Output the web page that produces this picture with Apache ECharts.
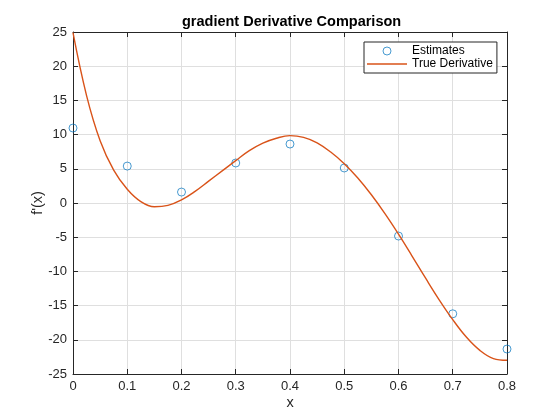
<!DOCTYPE html>
<html>
<head>
<meta charset="utf-8">
<script src="https://cdn.jsdelivr.net/npm/echarts@6/dist/echarts.min.js"></script>
<style>
  html, body { margin: 0; padding: 0; background: #fff; }
  #chart { width: 560px; height: 420px; }
</style>
</head>
<body>
<div id="chart"></div>
<script>
// sampled estimates at the grid points
const estX = [0, 0.1, 0.2, 0.3, 0.4, 0.5, 0.6, 0.7, 0.8];
const estY = [10.96, 5.4, 1.6, 5.85, 8.62, 5.12, -4.83, -16.2, -21.35];

// true derivative, every 0.025
const trueX = [0, 0.025, 0.05, 0.075, 0.1, 0.125, 0.15, 0.175, 0.2, 0.225, 0.25, 0.275,
    0.3, 0.325, 0.35, 0.375, 0.4, 0.425, 0.45, 0.475, 0.5, 0.525, 0.55, 0.575,
    0.6, 0.625, 0.65, 0.675, 0.7, 0.725, 0.75, 0.775, 0.8];
const trueY = [24.9, 15.7, 9.1, 4.8, 2.0, 0.2, -0.55, -0.35, 0.45, 1.7, 3.2, 4.7,
    6.2, 7.65, 8.75, 9.47, 9.85, 9.6, 8.8, 7.45, 5.75, 3.65, 1.2, -1.55,
    -4.55, -7.75, -11.0, -14.15, -17.05, -19.6, -21.55, -22.75, -23.0];

const font = 'Liberation Sans, Arial, sans-serif';
const axisColor = '#262626';
const blue = '#0072BD';
const orange = '#D95319';

const chart = echarts.init(document.getElementById('chart'), null, { renderer: 'canvas' });

const boxAxis = (pos) => ({
    type: 'value',
    position: pos,
    axisLine: { show: true, onZero: false, lineStyle: { color: axisColor, width: 1 } },
    axisTick: { show: true, inside: true, length: 5, lineStyle: { color: axisColor } },
    axisLabel: { show: false },
    splitLine: { show: false }
});

const option = {
    backgroundColor: '#fff',
    animation: false,
    title: {
        text: 'gradient Derivative Comparison',
        left: 177,
        top: 9,
        textStyle: { fontFamily: font, fontSize: 14.5, fontWeight: 'bold', color: '#000' }
    },
    legend: {
        orient: 'vertical',
        left: 364,
        top: 42,
        padding: [3, 4, 3, 3],
        itemWidth: 40,
        itemHeight: 8,
        itemGap: 1,
        itemTextGap: 3,
        backgroundColor: '#fff',
        borderColor: '#262626',
        borderWidth: 1,
        textStyle: { fontFamily: font, fontSize: 12, color: '#000' },
        data: [
            { name: 'Estimates', icon: 'circle', itemStyle: { color: 'rgba(255,255,255,0)', borderColor: blue, borderWidth: 0.9 } },
            { name: 'True Derivative', icon: 'path://M0,0h40v1.3h-40z', itemStyle: { color: orange, borderWidth: 0 } }
        ]
    },
    grid: { left: 73, right: 53, top: 32, bottom: 46 },
    xAxis: [{
        type: 'value',
        min: 0,
        max: 0.8,
        interval: 0.1,
        name: 'x',
        nameLocation: 'middle',
        nameGap: 21,
        nameMoveOverlap: false,
        nameTextStyle: { fontFamily: font, fontSize: 14.5, color: axisColor },
        axisLine: { onZero: false, lineStyle: { color: axisColor, width: 1 } },
        axisTick: { inside: true, length: 5, lineStyle: { color: axisColor } },
        axisLabel: { fontFamily: font, fontSize: 13, color: axisColor, margin: 6 },
        splitLine: { show: true, lineStyle: { color: '#dfdfdf', width: 1 } }
    }, Object.assign(boxAxis('top'), { min: 0, max: 0.8, interval: 0.1 })],
    yAxis: [{
        type: 'value',
        min: -25,
        max: 25,
        interval: 5,
        name: "f'(x)",
        nameLocation: 'middle',
        nameGap: 28,
        nameMoveOverlap: false,
        nameTextStyle: { fontFamily: font, fontSize: 14.5, color: axisColor },
        axisLine: { show: true, onZero: false, lineStyle: { color: axisColor, width: 1 } },
        axisTick: { show: true, inside: true, length: 5, lineStyle: { color: axisColor } },
        axisLabel: { fontFamily: font, fontSize: 13, color: axisColor, margin: 6 },
        splitLine: { show: true, lineStyle: { color: '#dfdfdf', width: 1 } }
    }, Object.assign(boxAxis('right'), { min: -25, max: 25, interval: 5 })],
    series: [
        {
            name: 'Estimates',
            type: 'scatter',
            symbol: 'circle',
            symbolSize: 8,
            itemStyle: { color: 'rgba(255,255,255,0)', borderColor: blue, borderWidth: 0.9 },
            data: estX.map((x, i) => [x, estY[i]])
        },
        {
            name: 'True Derivative',
            type: 'line',
            symbol: 'none',
            smooth: 0.4,
            lineStyle: { color: orange, width: 1.4 },
            itemStyle: { color: orange },
            data: trueX.map((x, i) => [x, trueY[i]])
        }
    ]
};

chart.setOption(option);
</script>
</body>
</html>
